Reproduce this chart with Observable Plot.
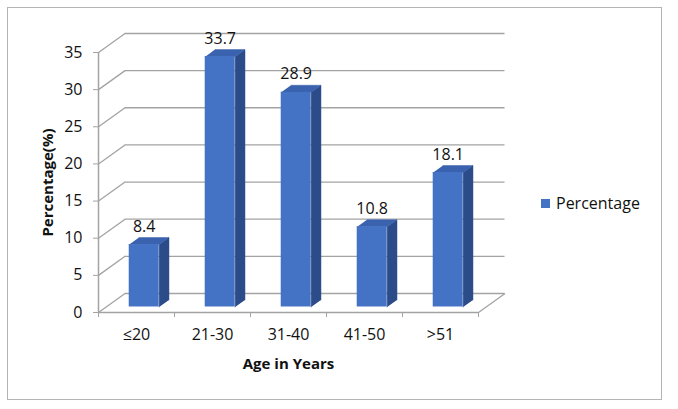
<!DOCTYPE html>
<html><head><meta charset="utf-8">
<script src="https://cdn.jsdelivr.net/npm/d3@7"></script>
<script src="https://cdn.jsdelivr.net/npm/@observablehq/plot@0.6"></script>
<style>
body{margin:0;background:#fff;font-family:"Open Sans",sans-serif;}
#wrap{position:relative;width:678px;height:409px;overflow:hidden;background:#fff}
#frame{position:absolute;left:7px;top:7px;width:655px;height:393px;border:1px solid #b4b4b4;box-sizing:border-box}
#chart{position:absolute;left:0;top:0}
#legend{position:absolute;left:541px;top:193px;font-size:16px;color:#111;display:flex;align-items:center;line-height:20px}
#legend .sw{display:inline-block;width:9px;height:9px;background:#4472c4;margin-right:6px}
</style></head><body>
<div id="wrap"><div id="frame"></div><div id="chart"></div><div id="legend"><span class="sw"></span><span id="legtxt"></span></div></div>
<script>
const categories = ["≤20", "21-30", "31-40", "41-50", ">51"];
const percentages = [8.4, 33.7, 28.9, 10.8, 18.1];
const yTicks = [0, 5, 10, 15, 20, 25, 30, 35];
const seriesName = "Percentage";
const xTitle = "Age in Years";
const yTitle = "Percentage(%)";

document.getElementById("legtxt").textContent = seriesName;

const gridColor = "#a3a3a3";
const textColor = "#111";
const frontColor = "#4472c4";
const sideColor = "#2c4b89";
const topColor = "#3a62ae";

// depth of the 3D box in data units
const DX = 0.349, DY = 2.56;
const f0 = 0.29, f1 = 0.66, HW = 0.197;
const a0 = DX * f0, b0 = DY * f0, a1 = DX * f1, b1 = DY * f1;

const rows = categories.map((c, i) => ({i, c, v: percentages[i]}));
const boundaries = categories.map((_, i) => i - 0.5).concat([categories.length - 0.5]);
const xMin = -0.5, xMax = categories.length - 0.5;

const sides = rows.flatMap(d => [
  {id: d.i, x: d.i + HW + a0, y: b0},
  {id: d.i, x: d.i + HW + a0, y: d.v + b0},
  {id: d.i, x: d.i + HW + a1, y: d.v + b1},
  {id: d.i, x: d.i + HW + a1, y: b1}
]);
const tops = rows.flatMap(d => [
  {id: d.i, x: d.i - HW + a0, y: d.v + b0},
  {id: d.i, x: d.i + HW + a0, y: d.v + b0},
  {id: d.i, x: d.i + HW + a1, y: d.v + b1},
  {id: d.i, x: d.i - HW + a1, y: d.v + b1}
]);
const fmt = d3.format(".1f");

const chart = Plot.plot({
  width: 678, height: 409,
  marginLeft: 98, marginRight: 200, marginTop: 52, marginBottom: 97,
  x: {type: "linear", domain: [xMin, xMax], axis: null, label: null},
  y: {domain: [0, 35], axis: null, label: null},
  style: {fontFamily: "Open Sans", fontSize: "16px", color: textColor, background: "transparent", overflow: "visible"},
  marks: [
    Plot.ruleY(yTicks, {y: d => d + DY, x1: xMin + DX, x2: xMax + DX, stroke: gridColor, strokeWidth: 1.3}),
    Plot.link(yTicks, {x1: xMin, y1: d => d, x2: xMin + DX, y2: d => d + DY, stroke: gridColor, strokeWidth: 1.3}),
    Plot.link([0], {x1: xMax, y1: 0, x2: xMax + DX, y2: DY, stroke: gridColor, strokeWidth: 1.3}),
    Plot.ruleY([0], {x1: xMin, x2: xMax, stroke: gridColor, strokeWidth: 1.5}),
    Plot.ruleX([xMin], {y1: 0, y2: 35, stroke: gridColor, strokeWidth: 1.5}),
    Plot.line(sides, {x: "x", y: "y", z: "id", fill: sideColor, stroke: sideColor, strokeWidth: 0.5, curve: "linear"}),
    Plot.line(tops, {x: "x", y: "y", z: "id", fill: topColor, stroke: topColor, strokeWidth: 0.5, curve: "linear"}),
    Plot.rect(rows, {x1: d => d.i - HW + a0, x2: d => d.i + HW + a0, y1: b0, y2: d => d.v + b0, fill: frontColor}),
    Plot.text(rows, {x: d => d.i + a0, y: d => d.v + b0, text: d => fmt(d.v), dy: -18, fontSize: 16, fill: textColor}),
    Plot.axisY({ticks: yTicks, tickFormat: d => String(d), label: null, tickSize: 5, tickPadding: 11, fontSize: 16, stroke: gridColor, fill: textColor}),
    Plot.axisX({ticks: boundaries, tickFormat: () => "", label: null, tickSize: 5, stroke: gridColor}),
    Plot.axisX({ticks: rows.map(d => d.i), tickFormat: i => categories[i], label: null, tickSize: 0, tickPadding: 16, fontSize: 16, fill: textColor}),
    Plot.text([xTitle], {frameAnchor: "bottom", dy: 52, lineAnchor: "middle", textAnchor: "middle", fontWeight: "bold", fontSize: 15, fill: textColor}),
    Plot.text([yTitle], {frameAnchor: "left", dx: -50, rotate: -90, lineAnchor: "middle", textAnchor: "middle", fontWeight: "bold", fontSize: 15, fill: textColor})
  ]
});
document.getElementById("chart").appendChild(chart);
</script>
</body></html>
